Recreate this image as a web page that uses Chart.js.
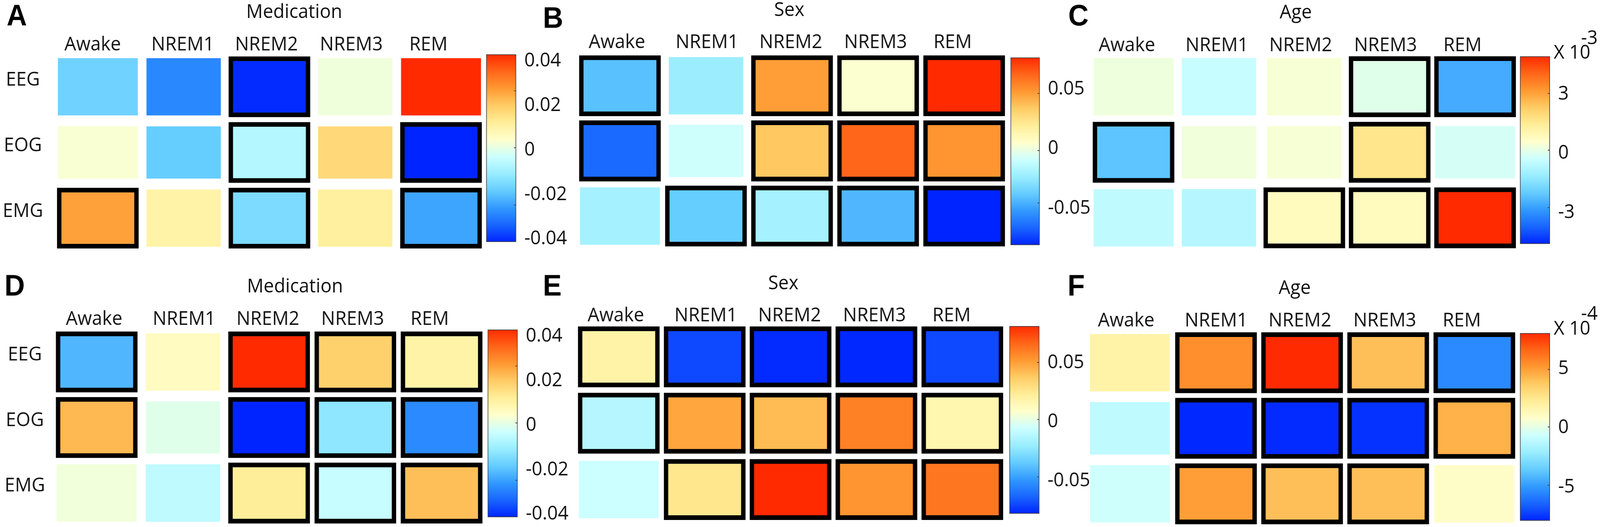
<!DOCTYPE html>
<html>
<head>
<meta charset="utf-8">
<script src="https://cdn.jsdelivr.net/npm/chart.js@4/dist/chart.umd.js"></script>
<style>
html,body{margin:0;padding:0;background:#fff;overflow:hidden}
#page{position:relative;width:4318px;height:1348px;overflow:hidden;background:#fff;transform-origin:0 0}
canvas{position:absolute;display:block}
.t{position:absolute;font:50px/50px "Open Sans",sans-serif;color:#111;white-space:nowrap}
.c{transform:translateX(-50%)}
.l{position:absolute;font:bold 76px/76px "Liberation Sans",sans-serif;color:#000}
</style>
</head>
<body>
<div id="page"></div>
<script>
// ---------- data ----------
const stages = ["Awake", "NREM1", "NREM2", "NREM3", "REM"];
const channels = ["EEG", "EOG", "EMG"];

const valuesA = [[-0.0169, -0.0286, -0.0406, 0.0023, 0.0430],
                 [0.0038, -0.0182, -0.0065, 0.0170, -0.0414],
                 [0.0265, 0.0100, -0.0148, 0.0114, -0.0243]];
const valuesB = [[-0.0428, -0.0244, 0.0449, 0.0024, 0.0748],
                 [-0.0669, -0.0102, 0.0331, 0.0606, 0.0473],
                 [-0.0220, -0.0393, -0.0220, -0.0456, -0.0826]];
const valuesC = [[0.20, -0.46, 0.35, -0.03, -2.65],
                 [-2.22, 0.25, 0.35, 1.58, -0.22],
                 [-0.60, -0.75, 0.73, 0.73, 4.81]];
const valuesD = [[-0.0216, 0.0063, 0.0430, 0.0189, 0.0101],
                 [0.0228, 0.0000, -0.0414, -0.0123, -0.0283],
                 [0.0025, -0.0051, 0.0123, -0.0038, 0.0219]];
const valuesE = [[0.0178, -0.0712, -0.0775, -0.0783, -0.0712],
                 [-0.0132, 0.0472, 0.0409, 0.0576, 0.0154],
                 [-0.0069, 0.0250, 0.0798, 0.0520, 0.0607]];
const valuesF = [[1.81, 5.38, 7.99, 4.03, -5.39],
                 [-1.04, -7.77, -7.69, -7.53, 4.43],
                 [-0.56, 4.98, 4.03, 4.03, 0.94]];

const significantA = [[0,0,1,0,0],[0,0,1,0,1],[1,0,1,0,1]];
const significantB = [[1,0,1,1,1],[1,0,1,1,1],[0,1,1,1,1]];
const significantC = [[0,0,0,1,1],[1,0,0,1,0],[0,0,1,1,1]];
const significantD = [[1,0,1,1,1],[1,0,1,1,1],[0,0,1,1,1]];
const significantE = [[1,1,1,1,1],[1,1,1,1,1],[0,1,1,1,1]];
const significantF = [[0,1,1,1,1],[0,1,1,1,1],[0,1,1,1,0]];

const colorbarTicks2 = [-0.04, -0.02, 0, 0.02, 0.04];
const colorbarLabels2 = ["-0.04", "-0.02", "0", "0.02", "0.04"];
const colorbarTicks5 = [-0.05, 0, 0.05];
const colorbarLabels5 = ["-0.05", "0", "0.05"];
const colorbarTicksC = [-3, 0, 3];
const colorbarLabelsC = ["-3", "0", "3"];
const colorbarTicksF = [-5, 0, 5];
const colorbarLabelsF = ["-5", "0", "5"];

const colormap = ["#0024FF","#1965FF","#3299FF","#65CCFF","#99EDFF","#CCFFFF",
                  "#FFFFCC","#FFEE99","#FFCC65","#FF9932","#FF6619","#FF2A00"];

// ---------- layout ----------
const PAGE = {w:4318,h:1348};
const headerOffsets = [0, 243, 469, 698, 906];
const panels = [
 {id:"A", title:"Medication", values:valuesA, sig:significantA, ticks:colorbarTicks2, labels:colorbarLabels2,
  min:-0.0414, max:0.0430, marks:[-0.0248,0.0010,0.0266], labelShift:0,
  left:148.25, right:1305.75, first:222, pitch:168, headX:250, headY:115, rowLabels:true, rowPad:32, rowShift:-17,
  bar:[1312,1393,139,619], titleX:794, titleY:28.5, letter:[18,1]},
 {id:"B", title:"Sex", values:valuesB, sig:significantB, ticks:colorbarTicks5, labels:colorbarLabels5,
  min:-0.0826, max:0.0748, marks:[-0.0472,-0.0033,0.0446], labelShift:5,
  left:1556.9, right:2718, first:219, pitch:166.5, headX:1665, headY:108,
  bar:[2727,2806,147,627], titleX:2130, titleY:24, letter:[1465,7]},
 {id:"C", title:"Age", values:valuesC, sig:significantC, ticks:colorbarTicksC, labels:colorbarLabelsC,
  min:-4.69, max:4.81, marks:[-2.85,0.06,2.93], labelShift:5,
  left:2943.75, right:4096, first:222, pitch:167.5, headX:3041, headY:117,
  bar:[4102,4183,144,624], titleX:3497, titleY:30, letter:[2883,1], exponent:["-3",115,78]},
 {id:"D", title:"Medication", values:valuesD, sig:significantD, ticks:colorbarTicks2, labels:colorbarLabels2,
  min:-0.0414, max:0.0430, marks:[-0.0248,0.0010,0.0266], labelShift:0,
  left:144.6, right:1308.4, first:926, pitch:167.5, headX:254, headY:817, rowLabels:true, rowPad:23, rowShift:-18,
  bar:[1316,1397,843,1323], titleX:796, titleY:731, letter:[12,692]},
 {id:"E", title:"Sex", values:valuesE, sig:significantE, ticks:colorbarTicks5, labels:colorbarLabels5,
  min:-0.0791, max:0.0798, marks:[-0.0480,0.0007,0.0490], labelShift:4,
  left:1554, right:2713, first:913, pitch:169.5, headX:1662, headY:808,
  bar:[2724,2805,834,1314], titleX:2114, titleY:723, letter:[1465,692]},
 {id:"F", title:"Age", values:valuesF, sig:significantF, ticks:colorbarTicksF, labels:colorbarLabelsF,
  min:-7.85, max:7.99, marks:[-4.85,0.07,4.92], labelShift:0,
  left:2932.75, right:4095, first:928, pitch:167.5, headX:3039, headY:821,
  bar:[4102,4183,852,1332], titleX:3494, titleY:735, letter:[2881,692], exponent:["-4",821,783]}
];
const CELL = {sigWidth:220, sigHeight:155, wide:215, narrow:200, rowHeights:[146,133,146], border:12};
const TEXT_FONT = {family:'"Open Sans", sans-serif', size:50};
const HEAD_SPACE = 130;

// ---------- colour mapping ----------
function rgb(hex){return [1,3,5].map(i=>parseInt(hex.substr(i,2),16));}
function colorAt(t){
  const s = Math.max(0,Math.min(1,t))*(colormap.length-1);
  const i = Math.min(colormap.length-2,Math.floor(s)), f = s-i;
  const a = rgb(colormap[i]), b = rgb(colormap[i+1]);
  return "rgb("+a.map((v,k)=>Math.round(v+(b[k]-v)*f)).join(",")+")";
}

// ---------- helpers ----------
const page=document.getElementById("page");
// Fit the 4318-wide layout into the window when the browser clamps its width.
const fitX=Math.min(1,window.innerWidth/PAGE.w);
if(fitX<1) page.style.transform="scale("+fitX+",1)";
function addText(cls,text,x,y){
  const d=document.createElement("div"); d.className=cls; d.textContent=text;
  d.style.left=x+"px"; d.style.top=y+"px"; page.appendChild(d); return d;
}
function addCanvas(x,y,w,h){
  const c=document.createElement("canvas"); c.width=Math.round(w); c.height=Math.round(h);
  c.style.left=x+"px"; c.style.top=y+"px"; c.style.width=Math.round(w)+"px"; c.style.height=Math.round(h)+"px";
  page.appendChild(c); return c;
}
// Tick labels must not shrink the plot area: geometry is fixed by the layout above.
function noLabelPadding(s){s.paddingTop=0;s.paddingBottom=0;s.paddingLeft=0;s.paddingRight=0;}

const colorbarMarks = {
  id:"colorbarMarks",
  afterDatasetsDraw(chart,args,opts){
    const {ctx,chartArea}=chart, y=chart.scales.y;
    ctx.save(); ctx.strokeStyle="#444"; ctx.lineWidth=2;
    (opts.values||[]).forEach(v=>{
      const p=y.getPixelForValue(v);
      ctx.beginPath(); ctx.moveTo(chartArea.right,p); ctx.lineTo(chartArea.right-6,p); ctx.stroke();
    });
    ctx.restore();
  }
};

// ---------- charts ----------
function drawHeatmap(p){
  const plotTop = p.first-p.pitch/2, plotBottom = plotTop+3*p.pitch, plotW = p.right-p.left;
  const canvasLeft = p.rowLabels ? 0 : p.left;
  const canvas = addCanvas(canvasLeft, plotTop-HEAD_SPACE, p.right-canvasLeft, plotBottom-plotTop+HEAD_SPACE);
  const datasets=[];
  channels.forEach((ch,r)=>{
    const kinds=[
      {name:"plain narrow", thick:CELL.narrow, test:c=>!p.sig[r][c]&&c>0&&c<4, h:CELL.rowHeights[r], bw:0},
      {name:"plain wide",   thick:CELL.wide,   test:c=>!p.sig[r][c]&&(c===0||c===4), h:CELL.rowHeights[r], bw:0},
      {name:"significant",  thick:CELL.sigWidth, test:c=>!!p.sig[r][c], h:CELL.sigHeight, bw:CELL.border}
    ];
    kinds.forEach(k=>{
      const span=k.h/p.pitch/2;
      datasets.push({
        label:ch+" "+k.name,
        data:stages.map((s,c)=>k.test(c)?[r-span,r+span]:null),
        backgroundColor:ctx=>colorAt((p.values[r][ctx.dataIndex]-p.min)/(p.max-p.min)),
        borderColor:"#000", borderWidth:k.bw, borderSkipped:false,
        barThickness:k.thick, grouped:false, xAxisID:"x", yAxisID:"y"
      });
    });
  });
  new Chart(canvas,{
    type:"bar",
    data:{labels:stages,datasets},
    options:{
      responsive:false, animation:false, devicePixelRatio:1,
      layout:{padding:0,autoPadding:false},
      plugins:{legend:{display:false},tooltip:{enabled:false},title:{display:false}},
      scales:{
        x:{type:"category",display:false,offset:true,grid:{display:false}},
        header:{
          type:"linear",position:"top",axis:"x",min:0,max:plotW,offset:false,
          grid:{display:false,drawTicks:false,offset:false},border:{display:false},
          afterFit:s=>{s.height=HEAD_SPACE;noLabelPadding(s);},
          afterBuildTicks:s=>{s.ticks=headerOffsets.map(o=>({value:p.headX-p.left+o}));},
          ticks:{autoSkip:false,maxRotation:0,minRotation:0,color:"#111",font:TEXT_FONT,
                 padding:plotTop-p.headY-30,callback:(v,i)=>stages[i]}
        },
        y:{
          type:"linear",reverse:true,min:-0.5,max:2.5,display:!!p.rowLabels,
          grid:{display:false,drawTicks:false},border:{display:false},
          afterFit:s=>{s.width=p.left-canvasLeft;noLabelPadding(s);},
          afterBuildTicks:s=>{s.ticks=channels.map((c,i)=>({value:i}));},
          ticks:{autoSkip:false,color:"#111",font:TEXT_FONT,crossAlign:"center",padding:p.rowPad||0,
                 labelOffset:p.rowShift||0,callback:v=>channels[v]}
        }
      }
    }
  });
}

function drawColorbar(p){
  const [bl,br,bt,bb]=p.bar, padTop=45, padBottom=Math.min(45,PAGE.h-bb), axisW=Math.min(140,PAGE.w-br);
  const canvas=addCanvas(bl-2,bt-padTop,br-bl+2+axisW,bb-bt+padTop+padBottom);
  new Chart(canvas,{
    type:"bar",
    data:{labels:["colorbar"],datasets:[{
      label:"colour scale",
      data:[[p.min,p.max]],
      barPercentage:1,categoryPercentage:1,
      borderColor:"#444",borderWidth:2,borderSkipped:false,
      backgroundColor:ctx=>{
        const a=ctx.chart.chartArea; if(!a) return colormap[6];
        const g=ctx.chart.ctx.createLinearGradient(0,a.bottom,0,a.top);
        colormap.forEach((c,i)=>g.addColorStop(i/(colormap.length-1),c));
        return g;
      }
    }]},
    plugins:[colorbarMarks],
    options:{
      responsive:false,animation:false,devicePixelRatio:1,
      layout:{padding:{left:2,top:padTop,bottom:padBottom},autoPadding:false},
      plugins:{legend:{display:false},tooltip:{enabled:false},colorbarMarks:{values:p.marks}},
      scales:{
        x:{type:"category",display:false,offset:true,grid:{display:false}},
        y:{type:"linear",position:"right",min:p.min,max:p.max,
           grid:{display:false,drawTicks:false},border:{display:false},
           afterFit:s=>{s.width=axisW;noLabelPadding(s);},
           afterBuildTicks:s=>{s.ticks=p.ticks.map(v=>({value:v}));},
           ticks:{autoSkip:false,color:"#111",font:TEXT_FONT,padding:22,labelOffset:p.labelShift,
                  callback:(v,i)=>p.labels[i]}}
      }
    }
  });
}

panels.forEach(p=>{
  drawHeatmap(p);
  drawColorbar(p);
  addText("t c",p.title,p.titleX,p.titleY-26.6);
  addText("l",p.id,p.letter[0],p.letter[1]);
  if(p.exponent){
    addText("t","X 10",p.bar[1]+10,p.exponent[1]-9);
    addText("t",p.exponent[0],p.bar[1]+84,p.exponent[2]-9);
  }
});
</script>
</body>
</html>
